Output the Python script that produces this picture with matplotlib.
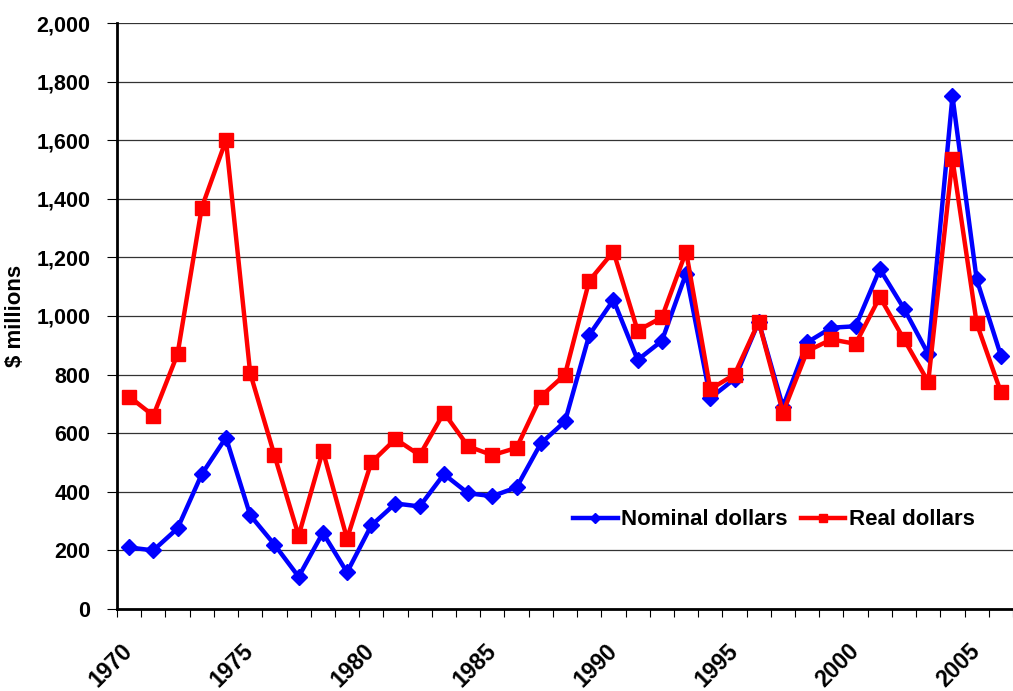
import numpy as np
import matplotlib
matplotlib.use("Agg")
import matplotlib.pyplot as plt
from matplotlib.ticker import FuncFormatter

plt.rcParams['font.family'] = ['Liberation Sans', 'DejaVu Sans']
plt.rcParams['font.weight'] = 'bold'

# Data, $ millions
years = list(range(1970, 2007))
nominal = [210, 200, 275, 460, 585, 320, 220, 110, 260, 125,
           285, 360, 350, 460, 395, 385, 415, 565, 640, 935,
           1055, 850, 915, 1145, 720, 785, 980, 690, 910, 960,
           965, 1160, 1025, 870, 1750, 1125, 865]
real = [725, 660, 870, 1370, 1600, 805, 525, 250, 540, 240,
        500, 580, 525, 670, 555, 525, 550, 725, 800, 1120,
        1220, 950, 995, 1220, 750, 800, 980, 670, 880, 920,
        905, 1065, 920, 775, 1535, 975, 740]
label_years = [1970, 1975, 1980, 1985, 1990, 1995, 2000, 2005]

fig = plt.figure(figsize=(10.13, 6.91), dpi=100)
ax = fig.add_axes([0.1155, 0.1187, 0.8845, 0.848])

x = np.arange(len(years))
ax.plot(x, nominal, color='#0000ff', lw=3.2, marker='D', markersize=8,
        label='Nominal dollars', zorder=3)
ax.plot(x, real, color='#ff0000', lw=3.2, marker='s', markersize=10,
        label='Real dollars', zorder=4)

ax.set_ylim(0, 2000)
ax.set_xlim(-0.5, -0.5 + (1013 - 117) / 24.4)
ax.set_yticks(range(0, 2001, 200))
ax.yaxis.set_major_formatter(FuncFormatter(lambda v, p: f"{int(v):,}"))
ax.grid(axis='y', color='#333333', lw=0.9)
ax.set_axisbelow(True)

# category boundaries as ticks, year labels at centres
ax.set_xticks(np.arange(-0.5, len(years) + 0.5, 1.0))
ax.set_xticklabels([])
ax.set_xticks([years.index(y) for y in label_years], minor=True)
ax.set_xticklabels([str(y) for y in label_years], minor=True, rotation=45,
                   ha='right', va='center', rotation_mode='anchor',
                   fontsize=16.5, fontweight='bold')
ax.tick_params(axis='x', which='major', direction='out', length=6, width=0.8)
ax.tick_params(axis='x', which='minor', length=0, pad=28)
ax.tick_params(axis='y', direction='out', length=7, width=0.8, pad=12,
               labelsize=15.5)
for t in ax.get_yticklabels():
    t.set_fontweight('bold')

for s in ['top', 'right']:
    ax.spines[s].set_visible(False)
ax.spines['left'].set_linewidth(2)
ax.spines['bottom'].set_linewidth(2)

ax.set_ylabel('$ millions', fontsize=16, fontweight='bold', labelpad=8)

leg = ax.legend(loc='center', bbox_to_anchor=(0.733, 0.152), ncol=2, frameon=False,
                fontsize=16, handlelength=2.0, handletextpad=0.15,
                columnspacing=0.6, markerscale=0.6)

fig.savefig('out.png', dpi=100)
